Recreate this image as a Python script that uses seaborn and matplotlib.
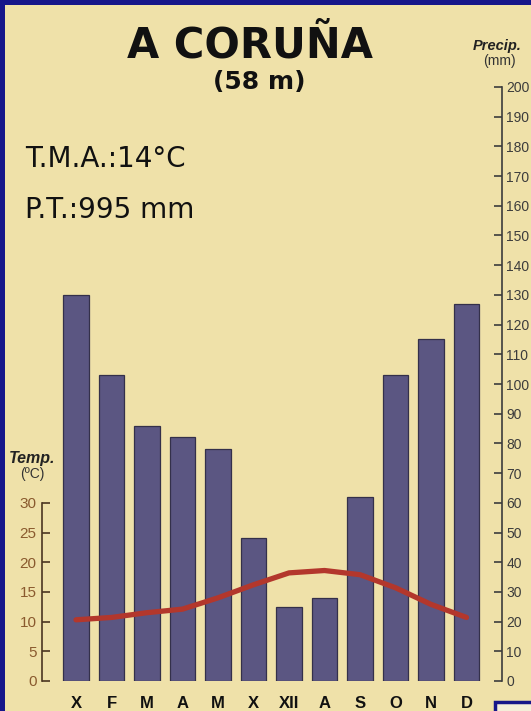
import matplotlib
matplotlib.use("Agg")
import matplotlib.pyplot as plt
import seaborn as sns
import pandas as pd
import numpy as np
from matplotlib.patches import Rectangle

months = ["X", "F", "M", "A", "M", "X", "XII", "A", "S", "O", "N", "D"]
precip = [130, 103, 86, 82, 78, 48, 25, 28, 62, 103, 115, 127]
temp = [10.3, 10.7, 11.5, 12.1, 14.0, 16.2, 18.2, 18.6, 17.9, 15.7, 12.9, 10.7]
precip_ticks = list(range(0, 201, 10))
temp_ticks = list(range(0, 31, 5))

title = "A CORUÑA"
subtitle = "(58 m)"
tma_text = "T.M.A.:14°C"
pt_text = "P.T.:995 mm"

BG = "#efe1a9"
BAR = "#5b5682"
LINE = "#b3372c"
BROWN = "#4b3621"
BROWN_LBL = "#8a5a2e"
GREY = "#3c3c3c"
BLUE = "#16168a"

sns.set_theme(style="white")
plt.rcParams["font.family"] = ["Liberation Sans", "DejaVu Sans"]

W, H = 531, 711
fig = plt.figure(figsize=(W / 100, H / 100), dpi=100, facecolor=BG)

left, right, bottom, top = 42, 502, 681, 87
ax = fig.add_axes([left / W, 1 - bottom / H, (right - left) / W, (bottom - top) / H])
ax.set_facecolor(BG)

df = pd.DataFrame({"idx": np.arange(12), "precip": precip, "temp": temp})

sns.barplot(data=df, x="idx", y="precip", ax=ax, color=BAR, width=0.73,
            edgecolor="#34304a", linewidth=0.9, saturation=1)
xlim = ((left - 76) / 35.5, (right - 76) / 35.5)

ax2 = ax.twinx()
sns.lineplot(data=df, x="idx", y="temp", ax=ax2, color=LINE, linewidth=3.8,
             solid_capstyle="round")

# precipitation axis (right)
ax.set_ylim(0, 200)
ax.set_xlim(xlim)
ax.set_xlabel("")
ax.set_ylabel("")
ax.set_xticks(range(12))
ax.set_xticklabels(months, fontweight="bold", fontsize=12, color="#111111")
ax.tick_params(axis="x", length=0, pad=11)
ax.yaxis.tick_right()
ax.yaxis.set_label_position("right")
ax.set_yticks(precip_ticks)
ax.set_yticklabels([str(v) for v in precip_ticks], fontsize=10, color=GREY)
ax.tick_params(axis="y", which="both", direction="in", length=6, width=1.2,
               color=GREY, pad=3, right=True, left=False,
               labelright=True, labelleft=False)
for s in ["left", "top", "bottom"]:
    ax.spines[s].set_visible(False)
ax.spines["right"].set_visible(True)
ax.spines["right"].set_color(GREY)
ax.spines["right"].set_linewidth(1.2)
ax.spines["right"].set_bounds(0, 200)

# temperature axis (left)
ax2.set_ylim(0, 100)
ax2.set_xlim(xlim)
ax2.set_ylabel("")
ax2.set_xlabel("")
ax2.yaxis.tick_left()
ax2.yaxis.set_label_position("left")
ax2.set_yticks(temp_ticks)
ax2.set_yticklabels([str(v) for v in temp_ticks], fontsize=11, color=BROWN_LBL)
ax2.tick_params(axis="y", which="both", direction="in", length=6, width=1.2,
                color=BROWN, pad=4, left=True, right=False,
                labelleft=True, labelright=False)
ax2.tick_params(axis="x", bottom=False, labelbottom=False)
for s in ["right", "top", "bottom"]:
    ax2.spines[s].set_visible(False)
ax2.spines["left"].set_visible(True)
ax2.spines["left"].set_color(BROWN)
ax2.spines["left"].set_linewidth(1.2)
ax2.spines["left"].set_bounds(0, 30)

comic = ["DejaVu Sans"]
fig.text(250 / W, 1 - 58 / H, title, ha="center", va="baseline", fontsize=30,
         fontweight="bold", family=comic, color="#111111")
fig.text(259 / W, 1 - 89 / H, subtitle, ha="center", va="baseline", fontsize=18,
         fontweight="bold", family=comic, color="#111111")
fig.text(25 / W, 1 - 167 / H, tma_text, ha="left", va="baseline", fontsize=20,
         family=comic, color="#111111")
fig.text(25 / W, 1 - 218 / H, pt_text, ha="left", va="baseline", fontsize=20,
         family=comic, color="#111111")

fig.text(473 / W, 1 - 46 / H, "Precip.", ha="left", va="center", fontsize=10.5,
         fontweight="bold", fontstyle="italic", color="#222222")
fig.text(499 / W, 1 - 61 / H, "(mm)", ha="center", va="center", fontsize=10,
         color="#333333")
fig.text(9 / W, 1 - 458 / H, "Temp.", ha="left", va="center", fontsize=11.5,
         fontweight="bold", fontstyle="italic", color="#222222")
fig.text(32 / W, 1 - 474 / H, "(ºC)", ha="center", va="center", fontsize=10,
         color="#333333")

# border
fig.patches.append(Rectangle((0, 1 - 5 / H), 1, 5 / H, transform=fig.transFigure,
                             facecolor=BLUE, edgecolor="none", zorder=10))
fig.patches.append(Rectangle((0, 0), 5 / W, 1, transform=fig.transFigure,
                             facecolor=BLUE, edgecolor="none", zorder=10))
fig.patches.append(Rectangle((495 / W, -0.01), 0.2, (711 - 702) / H + 0.01,
                             transform=fig.transFigure, facecolor="#f4eed8",
                             edgecolor=BLUE, linewidth=2.5, zorder=10))

fig.savefig("out.png", dpi=100, facecolor=BG)
